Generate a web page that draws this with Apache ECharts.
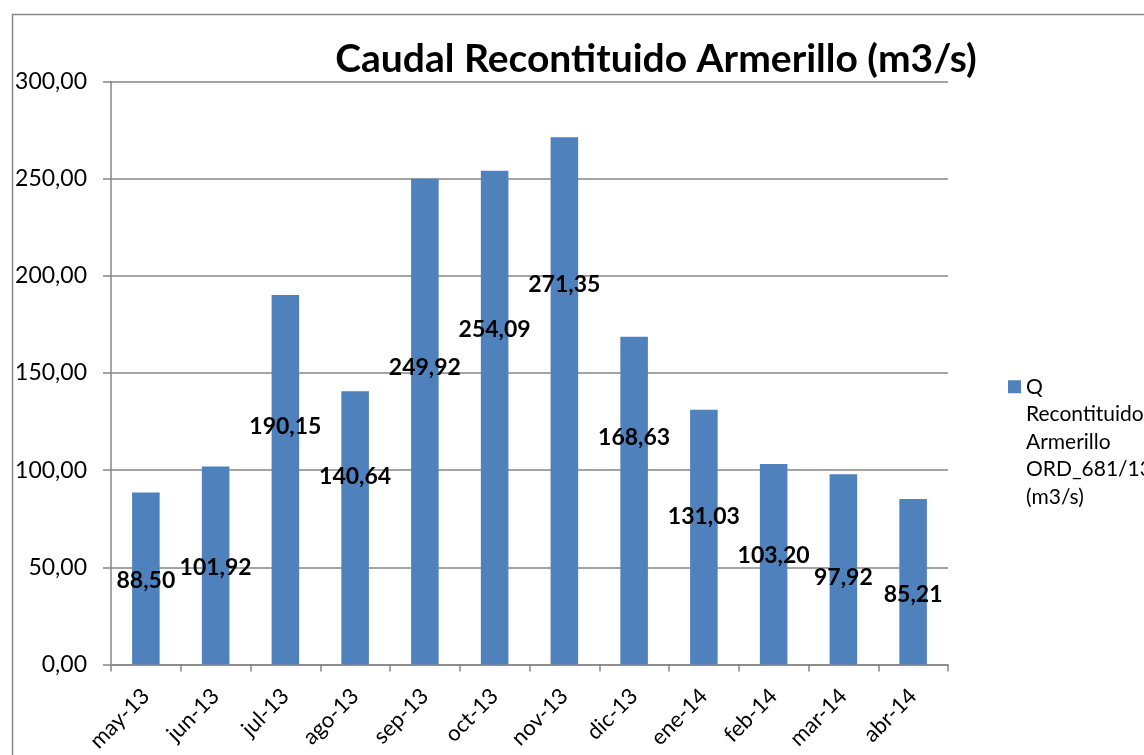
<!DOCTYPE html>
<html>
<head>
<meta charset="utf-8">
<script src="https://cdn.jsdelivr.net/npm/echarts@6/dist/echarts.min.js"></script>
<style>
html,body{margin:0;padding:0;background:#fff;}
#c{width:1144px;height:755px;}
</style>
</head>
<body>
<div id="c"></div>
<script>
var categories = ['may-13','jun-13','jul-13','ago-13','sep-13','oct-13','nov-13','dic-13','ene-14','feb-14','mar-14','abr-14'];
var values = [88.50, 101.92, 190.15, 140.64, 249.92, 254.09, 271.35, 168.63, 131.03, 103.20, 97.92, 85.21];
var seriesName = 'Q Recontituido Armerillo ORD_681/13 (m3/s)';
var legendLines = ['Q', 'Recontituido', 'Armerillo', 'ORD_681/13', '(m3/s)'];
var titleText = 'Caudal Recontituido Armerillo (m3/s)';
// label vertical placement within each bar (percent from bar top)
var labelPosPct = [51, 51, 35.5, 31.4, 38.9, 32.2, 28, 30.9, 41.8, 45.6, 54.2, 57.7];

var FONT = 'Lato, "Open Sans", sans-serif';
var chart = echarts.init(document.getElementById('c'));
var data = values.map(function (v, i) {
  return {
    value: v,
    label: { position: ['50%', labelPosPct[i] + '%'] }
  };
});
// pad with empty lines above so the icon lines up with the first text line
var legendText = new Array(legendLines.length).join('\n') + legendLines.join('\n');
chart.setOption({
  animation: false,
  backgroundColor: '#fff',
  title: {
    text: titleText,
    left: 651,
    top: 35,
    textAlign: 'center',
    textStyle: { fontFamily: FONT, fontWeight: 'bold', fontSize: 39, color: '#000' }
  },
  legend: {
    left: 1003,
    top: 258,
    orient: 'vertical',
    itemWidth: 13,
    itemHeight: 13,
    itemGap: 0,
    icon: 'rect',
    formatter: function () { return legendText; },
    textStyle: { fontFamily: FONT, fontSize: 21, color: '#000', lineHeight: 27.5 },
    data: [seriesName]
  },
  grid: { left: 111, right: 196, top: 81.5, bottom: 90.5, containLabel: false },
  xAxis: {
    type: 'category',
    data: categories,
    boundaryGap: true,
    axisLine: { lineStyle: { color: '#868686', width: 1.5 } },
    axisTick: { show: true, length: 7, lineStyle: { color: '#868686', width: 1.5 } },
    axisLabel: { rotate: 45, fontFamily: FONT, fontSize: 22, color: '#000', margin: 28, interval: 0 }
  },
  yAxis: {
    type: 'value',
    min: 0,
    max: 300,
    interval: 50,
    axisLine: { show: true, lineStyle: { color: '#868686', width: 1.5 } },
    axisTick: { show: true, length: 8, lineStyle: { color: '#868686', width: 1.5 } },
    splitLine: { lineStyle: { color: '#868686', width: 1.5 } },
    axisLabel: {
      fontFamily: FONT, fontSize: 23, color: '#000', margin: 24,
      formatter: function (v) { return v.toFixed(2).replace('.', ','); }
    }
  },
  series: [{
    name: seriesName,
    type: 'bar',
    barWidth: '39.5%',
    itemStyle: { color: '#4F81BD' },
    label: {
      show: true,
      align: 'center',
      verticalAlign: 'middle',
      fontFamily: FONT,
      fontWeight: 'bold',
      fontSize: 23,
      color: '#000',
      formatter: function (p) { return p.value.toFixed(2).replace('.', ','); }
    },
    data: data
  }],
  graphic: [{
    type: 'rect',
    shape: { x: 12.5, y: 14.5, width: 1300, height: 900 },
    style: { fill: 'none', stroke: '#868686', lineWidth: 1.5 },
    silent: true,
    z: -1
  }]
});
</script>
</body>
</html>
